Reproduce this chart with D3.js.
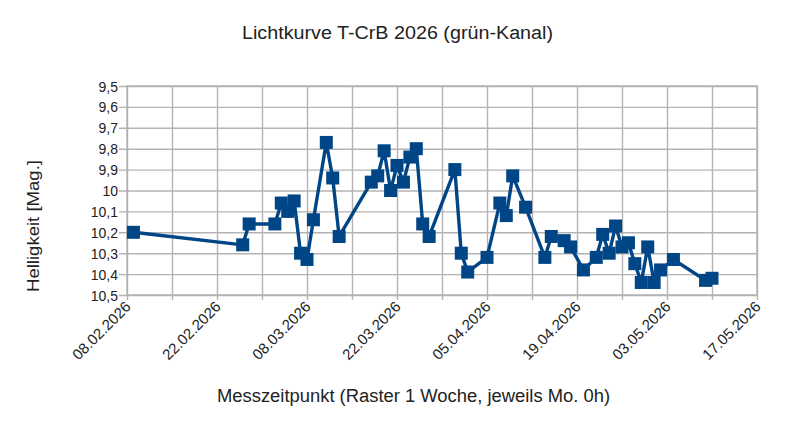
<!DOCTYPE html>
<html>
<head>
<meta charset="utf-8">
<script src="https://cdn.jsdelivr.net/npm/d3@7"></script>
<style>
  body { margin: 0; background: #fff; }
  text { font-family: "Liberation Sans", Arial, sans-serif; fill: #222; }
</style>
</head>
<body>
<script>
// Lichtkurve T-CrB, Werte
var dates = [
  "2026-02-09", "2026-02-26", "2026-02-27", "2026-03-03", "2026-03-04",
  "2026-03-05", "2026-03-06", "2026-03-07", "2026-03-08", "2026-03-09",
  "2026-03-11", "2026-03-12", "2026-03-13", "2026-03-18", "2026-03-19",
  "2026-03-20", "2026-03-21", "2026-03-22", "2026-03-23", "2026-03-24",
  "2026-03-25", "2026-03-26", "2026-03-27", "2026-03-31", "2026-04-01",
  "2026-04-02", "2026-04-05", "2026-04-07", "2026-04-08", "2026-04-09",
  "2026-04-11", "2026-04-14", "2026-04-15", "2026-04-17", "2026-04-18",
  "2026-04-20", "2026-04-22", "2026-04-23", "2026-04-24", "2026-04-25",
  "2026-04-26", "2026-04-27", "2026-04-28", "2026-04-29", "2026-04-30",
  "2026-05-01", "2026-05-02", "2026-05-04", "2026-05-09", "2026-05-10"
];
var mags = [
  10.20, 10.26, 10.16, 10.16, 10.06,
  10.10, 10.05, 10.30, 10.33, 10.14,
  9.77, 9.94, 10.22, 9.96, 9.93,
  9.81, 10.00, 9.88, 9.96, 9.84,
  9.80, 10.16, 10.22, 9.90, 10.30,
  10.39, 10.32, 10.06, 10.12, 9.93,
  10.08, 10.32, 10.22, 10.24, 10.27,
  10.38, 10.32, 10.21, 10.30, 10.17,
  10.27, 10.25, 10.35, 10.44, 10.27,
  10.44, 10.38, 10.33, 10.43, 10.42
];
var xStart = "2026-02-08";
var xEnd = "2026-05-17";
var yTicks = [9.5, 9.6, 9.7, 9.8, 9.9, 10.0, 10.1, 10.2, 10.3, 10.4, 10.5];

var title = "Lichtkurve T-CrB 2026 (grün-Kanal)";
var xTitle = "Messzeitpunkt (Raster 1 Woche, jeweils Mo. 0h)";
var yTitle = "Helligkeit [Mag.]";

window.onload = function() {

  var W = 796, H = 434;
  var margin = { top: 86, right: 39, bottom: 139, left: 127 };
  var width = W - margin.left - margin.right;
  var height = H - margin.top - margin.bottom;

  var parse = d3.utcParse("%Y-%m-%d");
  var data = dates.map(function(d, i) { return { t: parse(d), m: mags[i] }; });

  var svg = d3.select("body").append("svg")
    .attr("width", W)
    .attr("height", H);

  var g = svg.append("g")
    .attr("transform", "translate(" + margin.left + "," + margin.top + ")");

  var xscale = d3.scaleUtc()
    .domain([parse(xStart), parse(xEnd)])
    .range([0, width]);

  // magnitude: small value on top
  var yscale = d3.scaleLinear()
    .domain([9.5, 10.5])
    .range([0, height]);

  var de = d3.formatLocale({ decimal: ",", thousands: ".", grouping: [3], currency: ["", " €"] });
  var yfmt = de.format(".1~f");

  // one grid line per week, label every second one
  var weeks = d3.range(0, 15).map(function(i) { return d3.utcDay.offset(parse(xStart), i * 7); });
  var labelWeeks = weeks.filter(function(d, i) { return i % 2 == 0; });
  var fmtDate = d3.utcFormat("%d.%m.%Y");

  // horizontal grid + ticks to the left
  var yAxis = d3.axisLeft(yscale)
    .tickValues(yTicks)
    .tickSize(-width - 8)
    .tickFormat(yfmt);
  var yg = g.append("g")
    .attr("class", "y axis")
    .attr("transform", "translate(-8,0)")
    .call(yAxis);
  yg.select(".domain").remove();
  yg.selectAll("line").attr("stroke", "#b3b3b3").attr("stroke-width", 1.4);
  yg.selectAll("text")
    .attr("x", -1)
    .attr("dy", "0.36em")
    .style("font-size", "14px")
    .style("fill", "#222");

  // vertical grid every week + small ticks below
  var xAxis = d3.axisBottom(xscale)
    .tickValues(weeks)
    .tickSize(-height)
    .tickFormat("");
  var xg = g.append("g")
    .attr("class", "x axis")
    .attr("transform", "translate(0," + height + ")")
    .call(xAxis);
  xg.select(".domain").remove();
  xg.selectAll("line")
    .attr("y1", 5)
    .attr("stroke", "#b3b3b3")
    .attr("stroke-width", 1.4);

  // frame
  g.append("rect")
    .attr("width", width)
    .attr("height", height)
    .attr("fill", "none")
    .attr("stroke", "#b3b3b3")
    .attr("stroke-width", 1.4);

  // date labels, rotated
  g.selectAll("text.date")
    .data(labelWeeks)
    .enter().append("text")
    .attr("class", "date")
    .attr("text-anchor", "end")
    .attr("transform", function(d) {
      return "translate(" + (xscale(d) + 1) + "," + (height + 9) + ") rotate(-45)";
    })
    .attr("dy", "0.35em")
    .style("font-size", "15px")
    .text(function(d) { return fmtDate(d); });

  // the light curve
  var line = d3.line()
    .x(function(d) { return xscale(d.t); })
    .y(function(d) { return yscale(d.m); });

  g.append("path")
    .datum(data)
    .attr("fill", "none")
    .attr("stroke", "#004586")
    .attr("stroke-width", 3.4)
    .attr("stroke-linejoin", "round")
    .attr("d", line);

  var s = 13;
  g.selectAll("rect.pt")
    .data(data)
    .enter().append("rect")
    .attr("class", "pt")
    .attr("x", function(d) { return xscale(d.t) - s / 2; })
    .attr("y", function(d) { return yscale(d.m) - s / 2; })
    .attr("width", s)
    .attr("height", s)
    .attr("fill", "#004586");

  // titles
  svg.append("text")
    .attr("x", 397.5)
    .attr("y", 39)
    .attr("text-anchor", "middle")
    .attr("textLength", 311)
    .attr("lengthAdjust", "spacingAndGlyphs")
    .style("font-size", "18px")
    .text(title);

  svg.append("text")
    .attr("x", 413.5)
    .attr("y", 402)
    .attr("text-anchor", "middle")
    .attr("textLength", 393)
    .attr("lengthAdjust", "spacingAndGlyphs")
    .style("font-size", "18px")
    .text(xTitle);

  svg.append("text")
    .attr("transform", "translate(39,226) rotate(-90)")
    .attr("text-anchor", "middle")
    .attr("textLength", 132)
    .attr("lengthAdjust", "spacingAndGlyphs")
    .style("font-size", "17px")
    .text(yTitle);
};
</script>
</body>
</html>
